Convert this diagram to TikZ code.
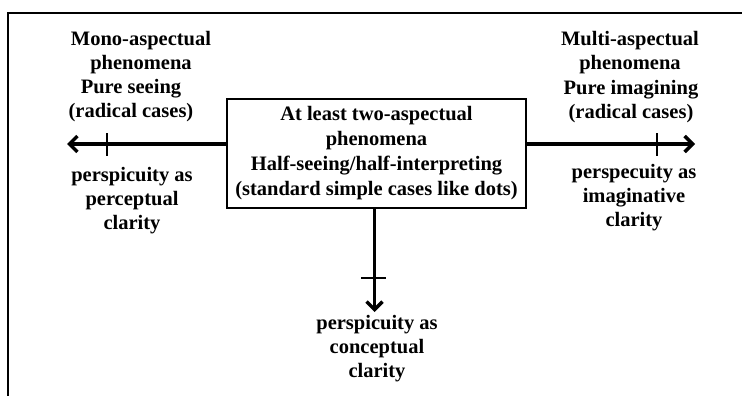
\documentclass[tikz,border=0pt]{standalone}
\usepackage{fontspec}
\setmainfont{Liberation Serif}
\usetikzlibrary{arrows.meta}
\tikzset{
  lbl/.style={font=\bfseries\fontsize{20.5}{24}\selectfont, align=center, inner sep=0pt},
  axis/.style={line width=3.5pt, -{Straight Barb[length=8pt,width=16pt]}},
  tick/.style={line width=2.5pt},
}
\begin{document}
\begin{tikzpicture}[x=1pt,y=-1pt]
      \useasboundingbox (0,0) rectangle (742,396);
      \draw[line width=1.5pt] (742,13) -- (8,13) -- (8,396);
      \node[draw, line width=2pt, minimum width=299pt, minimum height=109pt, lbl, font=\bfseries\fontsize{20.5}{25}\selectfont] (two) at (376.5,153.5) {At least two-aspectual\\phenomena\\Half-seeing/half-interpreting\\(standard simple cases like dots)};
      \coordinate (lt) at (67,144);
      \coordinate (rt) at (695,144);
      \coordinate (bt) at (374.5,312);
      \draw[axis] (two.west |- lt) -- (lt);
      \draw[axis] (two.east |- rt) -- (rt);
      \draw[axis] (two.south -| bt) -- (bt);
      \draw[tick] (107,133) -- (107,156);
      \draw[tick] (657,133) -- (657,156);
      \draw[tick] (361,278) -- (386,278);
      \node[lbl] (monoA) at (141,53) {Mono-aspectual\\phenomena};
      \node[lbl] (monoB) at (131,101) {Pure seeing\\(radical cases)};
      \node[lbl] (perc) at (132,201) {perspicuity as\\perceptual\\clarity};
      \node[lbl] (multiA) at (630,53) {Multi-aspectual\\phenomena};
      \node[lbl] (multiB) at (631,102) {Pure imagining\\(radical cases)};
      \node[lbl] (imag) at (634,198) {perspecuity as\\imaginative\\clarity};
      \node[lbl] (conc) at (377,349) {perspicuity as\\conceptual\\clarity};
\end{tikzpicture}
\end{document}
